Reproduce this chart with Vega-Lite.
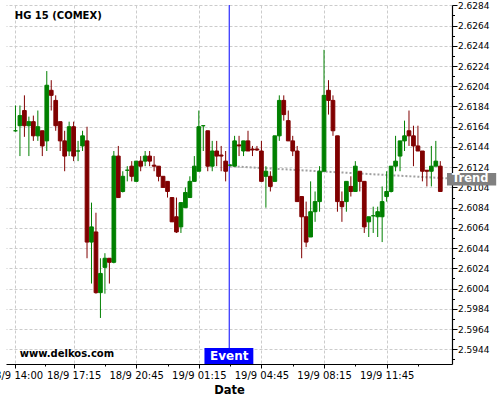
{
  "$schema": "https://vega.github.io/schema/vega-lite/v6.json",
  "width": 446,
  "height": 359,
  "autosize": {"type": "none"},
  "padding": {"left": 6, "top": 5, "right": 48, "bottom": 36},
  "background": "white",
  "config": {
    "view": {"stroke": null},
    "axis": {"labelFont": "DejaVu Sans", "titleFont": "DejaVu Sans", "labelColor": "black", "titleColor": "black"}
  },
  "datasets": {
    "candles": [
      {"i":0,"o":2.6160,"h":2.6185,"l":2.6159,"c":2.6160},
      {"i":1,"o":2.6165,"h":2.6185,"l":2.6135,"c":2.6175},
      {"i":2,"o":2.6180,"h":2.6195,"l":2.6154,"c":2.6165},
      {"i":3,"o":2.6165,"h":2.6174,"l":2.6135,"c":2.6169},
      {"i":4,"o":2.6169,"h":2.6175,"l":2.6150,"c":2.6155},
      {"i":5,"o":2.6155,"h":2.6180,"l":2.6150,"c":2.6164},
      {"i":6,"o":2.6160,"h":2.6160,"l":2.6135,"c":2.6145},
      {"i":7,"o":2.6150,"h":2.6219,"l":2.6140,"c":2.6205},
      {"i":8,"o":2.6200,"h":2.6210,"l":2.6180,"c":2.6195},
      {"i":9,"o":2.6190,"h":2.6195,"l":2.6160,"c":2.6165},
      {"i":10,"o":2.6169,"h":2.6169,"l":2.6140,"c":2.6150},
      {"i":11,"o":2.6150,"h":2.6160,"l":2.6120,"c":2.6135},
      {"i":12,"o":2.6140,"h":2.6169,"l":2.6135,"c":2.6164},
      {"i":13,"o":2.6164,"h":2.6169,"l":2.6130,"c":2.6135},
      {"i":14,"o":2.6140,"h":2.6150,"l":2.6130,"c":2.6140},
      {"i":15,"o":2.6145,"h":2.6160,"l":2.6140,"c":2.6155},
      {"i":16,"o":2.6150,"h":2.6164,"l":2.6034,"c":2.6050},
      {"i":17,"o":2.6050,"h":2.6089,"l":2.6009,"c":2.6065},
      {"i":18,"o":2.6060,"h":2.6079,"l":2.5999,"c":2.6000},
      {"i":19,"o":2.6000,"h":2.6034,"l":2.5975,"c":2.6019},
      {"i":20,"o":2.6025,"h":2.6039,"l":2.5999,"c":2.6034},
      {"i":21,"o":2.6034,"h":2.6034,"l":2.6009,"c":2.6030},
      {"i":22,"o":2.6030,"h":2.6140,"l":2.6029,"c":2.6135},
      {"i":23,"o":2.6135,"h":2.6145,"l":2.6094,"c":2.6094},
      {"i":24,"o":2.6100,"h":2.6120,"l":2.6099,"c":2.6115},
      {"i":25,"o":2.6121,"h":2.6125,"l":2.6110,"c":2.6121},
      {"i":26,"o":2.6125,"h":2.6130,"l":2.6110,"c":2.6115},
      {"i":27,"o":2.6110,"h":2.6130,"l":2.6110,"c":2.6130},
      {"i":28,"o":2.6130,"h":2.6135,"l":2.6120,"c":2.6125},
      {"i":29,"o":2.6130,"h":2.6140,"l":2.6125,"c":2.6135},
      {"i":30,"o":2.6135,"h":2.6140,"l":2.6125,"c":2.6130},
      {"i":31,"o":2.6126,"h":2.6135,"l":2.6120,"c":2.6125},
      {"i":32,"o":2.6125,"h":2.6125,"l":2.6110,"c":2.6115},
      {"i":33,"o":2.6115,"h":2.6115,"l":2.6104,"c":2.6104},
      {"i":34,"o":2.6110,"h":2.6110,"l":2.6094,"c":2.6100},
      {"i":35,"o":2.6094,"h":2.6094,"l":2.6070,"c":2.6070},
      {"i":36,"o":2.6075,"h":2.6094,"l":2.6059,"c":2.6060},
      {"i":37,"o":2.6065,"h":2.6089,"l":2.6059,"c":2.6089},
      {"i":38,"o":2.6084,"h":2.6104,"l":2.6084,"c":2.6099},
      {"i":39,"o":2.6094,"h":2.6115,"l":2.6094,"c":2.6110},
      {"i":40,"o":2.6110,"h":2.6135,"l":2.6110,"c":2.6125},
      {"i":41,"o":2.6120,"h":2.6180,"l":2.6120,"c":2.6164},
      {"i":42,"o":2.6165,"h":2.6165,"l":2.6140,"c":2.6165},
      {"i":43,"o":2.6160,"h":2.6160,"l":2.6120,"c":2.6125},
      {"i":44,"o":2.6125,"h":2.6150,"l":2.6120,"c":2.6140},
      {"i":45,"o":2.6140,"h":2.6150,"l":2.6125,"c":2.6135},
      {"i":46,"o":2.6136,"h":2.6145,"l":2.6120,"c":2.6135},
      {"i":47,"o":2.6130,"h":2.6140,"l":2.6110,"c":2.6120},
      {"i":48,"o":2.6126,"h":2.6127,"l":2.6125,"c":2.6126},
      {"i":49,"o":2.6125,"h":2.6155,"l":2.6125,"c":2.6150},
      {"i":50,"o":2.6146,"h":2.6155,"l":2.6135,"c":2.6145},
      {"i":51,"o":2.6140,"h":2.6150,"l":2.6135,"c":2.6150},
      {"i":52,"o":2.6150,"h":2.6160,"l":2.6140,"c":2.6140},
      {"i":53,"o":2.6142,"h":2.6145,"l":2.6135,"c":2.6141},
      {"i":54,"o":2.6142,"h":2.6145,"l":2.6140,"c":2.6141},
      {"i":55,"o":2.6140,"h":2.6150,"l":2.6110,"c":2.6110},
      {"i":56,"o":2.6115,"h":2.6125,"l":2.6084,"c":2.6120},
      {"i":57,"o":2.6115,"h":2.6120,"l":2.6100,"c":2.6105},
      {"i":58,"o":2.6110,"h":2.6155,"l":2.6110,"c":2.6155},
      {"i":59,"o":2.6155,"h":2.6195,"l":2.6150,"c":2.6190},
      {"i":60,"o":2.6190,"h":2.6195,"l":2.6170,"c":2.6176},
      {"i":61,"o":2.6170,"h":2.6180,"l":2.6150,"c":2.6150},
      {"i":62,"o":2.6150,"h":2.6155,"l":2.6135,"c":2.6140},
      {"i":63,"o":2.6140,"h":2.6145,"l":2.6090,"c":2.6090},
      {"i":64,"o":2.6095,"h":2.6095,"l":2.6034,"c":2.6075},
      {"i":65,"o":2.6075,"h":2.6090,"l":2.6045,"c":2.6050},
      {"i":66,"o":2.6055,"h":2.6110,"l":2.6055,"c":2.6080},
      {"i":67,"o":2.6080,"h":2.6100,"l":2.6070,"c":2.6090},
      {"i":68,"o":2.6090,"h":2.6125,"l":2.6080,"c":2.6120},
      {"i":69,"o":2.6120,"h":2.6240,"l":2.6120,"c":2.6195},
      {"i":70,"o":2.6200,"h":2.6210,"l":2.6176,"c":2.6190},
      {"i":71,"o":2.6190,"h":2.6195,"l":2.6155,"c":2.6160},
      {"i":72,"o":2.6155,"h":2.6155,"l":2.6080,"c":2.6090},
      {"i":73,"o":2.6090,"h":2.6100,"l":2.6070,"c":2.6085},
      {"i":74,"o":2.6090,"h":2.6110,"l":2.6080,"c":2.6110},
      {"i":75,"o":2.6105,"h":2.6115,"l":2.6095,"c":2.6100},
      {"i":76,"o":2.6100,"h":2.6130,"l":2.6100,"c":2.6125},
      {"i":77,"o":2.6120,"h":2.6120,"l":2.6100,"c":2.6110},
      {"i":78,"o":2.6110,"h":2.6110,"l":2.6059,"c":2.6065},
      {"i":79,"o":2.6070,"h":2.6075,"l":2.6055,"c":2.6075},
      {"i":80,"o":2.6076,"h":2.6085,"l":2.6059,"c":2.6076},
      {"i":81,"o":2.6075,"h":2.6085,"l":2.6055,"c":2.6080},
      {"i":82,"o":2.6075,"h":2.6105,"l":2.6050,"c":2.6090},
      {"i":83,"o":2.6095,"h":2.6120,"l":2.6090,"c":2.6100},
      {"i":84,"o":2.6100,"h":2.6125,"l":2.6099,"c":2.6125},
      {"i":85,"o":2.6125,"h":2.6155,"l":2.6120,"c":2.6130},
      {"i":86,"o":2.6135,"h":2.6150,"l":2.6120,"c":2.6150},
      {"i":87,"o":2.6150,"h":2.6170,"l":2.6140,"c":2.6155},
      {"i":88,"o":2.6160,"h":2.6180,"l":2.6145,"c":2.6155},
      {"i":89,"o":2.6155,"h":2.6165,"l":2.6125,"c":2.6145},
      {"i":90,"o":2.6145,"h":2.6165,"l":2.6140,"c":2.6140},
      {"i":91,"o":2.6140,"h":2.6140,"l":2.6110,"c":2.6120},
      {"i":92,"o":2.6121,"h":2.6121,"l":2.6105,"c":2.6120},
      {"i":93,"o":2.6120,"h":2.6145,"l":2.6105,"c":2.6125},
      {"i":94,"o":2.6125,"h":2.6150,"l":2.6125,"c":2.6130},
      {"i":95,"o":2.6125,"h":2.6130,"l":2.6100,"c":2.6100}
    ],
    "trend": [
      {"i":47.9,"v":2.6125},
      {"i":63.8,"v":2.6121},
      {"i":80.0,"v":2.6117},
      {"i":96.5,"v":2.6113}
    ],
    "event": [{"i":47.8,"label":"Event"}],
    "one": [{}]
  },
  "resolve": {"axis": {"x": "independent", "y": "independent"}},
  "layer": [
    {
      "data": {"name": "trend"},
      "mark": {"type": "line", "color": "#a0a0a0", "strokeWidth": 2, "strokeDash": [2, 2]},
      "encoding": {
        "x": {"field": "i", "type": "quantitative", "scale": {"domain": [-1, 96.5], "nice": false, "zero": false}, "axis": null},
        "y": {"field": "v", "type": "quantitative", "scale": {"domain": [2.59295, 2.62843], "nice": false, "zero": false}, "axis": null}
      }
    },
    {
      "data": {"name": "event"},
      "mark": {"type": "rule", "color": "#0000ff", "strokeWidth": 1},
      "encoding": {
        "x": {"field": "i", "type": "quantitative", "scale": {"domain": [-1, 96.5], "nice": false, "zero": false}, "axis": null}
      }
    },
    {
      "data": {"name": "candles"},
      "mark": {"type": "rule", "strokeWidth": 1},
      "encoding": {
        "x": {"field": "i", "type": "quantitative", "scale": {"domain": [-1, 96.5], "nice": false, "zero": false},
          "axis": {"orient": "bottom", "values": [0, 13, 27, 41, 55, 69, 83],
            "labelExpr": "datum.value==0?'18/9 14:00':datum.value==13?'18/9 17:15':datum.value==27?'18/9 20:45':datum.value==41?'19/9 01:15':datum.value==55?'19/9 04:45':datum.value==69?'19/9 08:15':'19/9 11:45'",
            "tickSize": 4, "tickColor": "black", "domainColor": "black", "domainWidth": 1.2,
            "labelFontSize": 10, "labelPadding": 2, "labelFlush": false, "labelOverlap": false,
            "grid": true, "gridColor": "#cccccc", "gridDash": [3, 2], "gridWidth": 1,
            "title": "Date", "titleFontSize": 11.5, "titleFontWeight": "bold", "titlePadding": 4}},
        "y": {"field": "l", "type": "quantitative", "scale": {"domain": [2.59295, 2.62843], "nice": false, "zero": false},
          "axis": {"orient": "right",
            "values": [2.5944, 2.5964, 2.5984, 2.6004, 2.6024, 2.6044, 2.6064, 2.6084, 2.6104, 2.6124, 2.6144, 2.6164, 2.6184, 2.6204, 2.6224, 2.6244, 2.6264, 2.6284],
            "format": ".4f", "tickSize": 5, "tickColor": "black", "domainColor": "black", "domainWidth": 1.2,
            "labelFontSize": 9, "labelPadding": 0.5, "labelFlush": false, "labelOverlap": false,
            "grid": true, "gridColor": "#cccccc", "gridDash": [3, 2], "gridWidth": 1, "title": null}},
        "y2": {"field": "h"},
        "color": {"condition": {"test": "datum.c >= datum.o", "value": "#008000"}, "value": "#800000"}
      }
    },
    {
      "data": {"name": "candles"},
      "mark": {"type": "bar", "width": 3.7, "strokeWidth": 1},
      "encoding": {
        "x": {"field": "i", "type": "quantitative", "scale": {"domain": [-1, 96.5], "nice": false, "zero": false},
          "axis": {"orient": "bottom", "values": [6.5, 20, 34, 48, 62, 76, 90], "labels": false, "domain": false, "grid": false, "tickSize": 2, "tickColor": "black", "title": null}},
        "y": {"field": "o", "type": "quantitative", "scale": {"domain": [2.59295, 2.62843], "nice": false, "zero": false},
          "axis": {"orient": "right",
            "values": [2.5934, 2.5954, 2.5974, 2.5994, 2.6014, 2.6034, 2.6054, 2.6074, 2.6094, 2.6114, 2.6134, 2.6154, 2.6174, 2.6194, 2.6214, 2.6234, 2.6254, 2.6274],
            "labels": false, "domain": false, "grid": false, "tickSize": 2.5, "tickColor": "black", "title": null}},
        "y2": {"field": "c"},
        "fill": {"condition": {"test": "datum.c >= datum.o", "value": "#008000"}, "value": "#800000"},
        "stroke": {"condition": {"test": "datum.c >= datum.o", "value": "#008000"}, "value": "#800000"}
      }
    },
    {
      "data": {"name": "one"},
      "mark": {"type": "rect", "color": "#0000ff"},
      "encoding": {
        "x": {"datum": 42.26, "type": "quantitative", "scale": {"domain": [-1, 96.5], "nice": false, "zero": false}, "axis": null},
        "x2": {"datum": 53.19},
        "y": {"datum": 2.59295, "type": "quantitative", "scale": {"domain": [2.59295, 2.62843], "nice": false, "zero": false}, "axis": null},
        "y2": {"datum": 2.59453}
      }
    },
    {
      "data": {"name": "event"},
      "mark": {"type": "text", "color": "white", "font": "DejaVu Sans", "fontWeight": "bold", "fontSize": 12, "align": "center", "baseline": "middle"},
      "encoding": {
        "x": {"field": "i", "type": "quantitative", "scale": {"domain": [-1, 96.5], "nice": false, "zero": false}, "axis": null},
        "y": {"datum": 2.59374, "type": "quantitative", "scale": {"domain": [2.59295, 2.62843], "nice": false, "zero": false}, "axis": null},
        "text": {"field": "label"}
      }
    },
    {
      "data": {"name": "one"},
      "mark": {"type": "rect", "color": "#808080"},
      "encoding": {
        "x": {"datum": 96.5, "type": "quantitative", "scale": {"domain": [-1, 96.5], "nice": false, "zero": false}, "axis": null},
        "x2": {"datum": 107.5},
        "y": {"datum": 2.61182, "type": "quantitative", "scale": {"domain": [2.59295, 2.62843], "nice": false, "zero": false}, "axis": null},
        "y2": {"datum": 2.61058}
      }
    },
    {
      "data": {"name": "one"},
      "mark": {"type": "text", "color": "white", "font": "DejaVu Sans", "fontWeight": "bold", "fontSize": 11.5, "align": "center", "baseline": "middle"},
      "encoding": {
        "x": {"datum": 101.7, "type": "quantitative", "scale": {"domain": [-1, 96.5], "nice": false, "zero": false}, "axis": null},
        "y": {"datum": 2.6112, "type": "quantitative", "scale": {"domain": [2.59295, 2.62843], "nice": false, "zero": false}, "axis": null},
        "text": {"value": "Trend"}
      }
    },
    {
      "data": {"name": "one"},
      "mark": {"type": "text", "color": "black", "font": "DejaVu Sans", "fontWeight": "bold", "fontSize": 10, "align": "left", "baseline": "middle"},
      "encoding": {
        "x": {"datum": -0.15, "type": "quantitative", "scale": {"domain": [-1, 96.5], "nice": false, "zero": false}, "axis": null},
        "y": {"datum": 2.62732, "type": "quantitative", "scale": {"domain": [2.59295, 2.62843], "nice": false, "zero": false}, "axis": null},
        "text": {"value": "HG 15 (COMEX)"}
      }
    },
    {
      "data": {"name": "one"},
      "mark": {"type": "text", "color": "black", "font": "DejaVu Sans", "fontWeight": "bold", "fontSize": 10, "align": "left", "baseline": "middle"},
      "encoding": {
        "x": {"datum": 0.94, "type": "quantitative", "scale": {"domain": [-1, 96.5], "nice": false, "zero": false}, "axis": null},
        "y": {"datum": 2.59396, "type": "quantitative", "scale": {"domain": [2.59295, 2.62843], "nice": false, "zero": false}, "axis": null},
        "text": {"value": "www.delkos.com"}
      }
    }
  ]
}
